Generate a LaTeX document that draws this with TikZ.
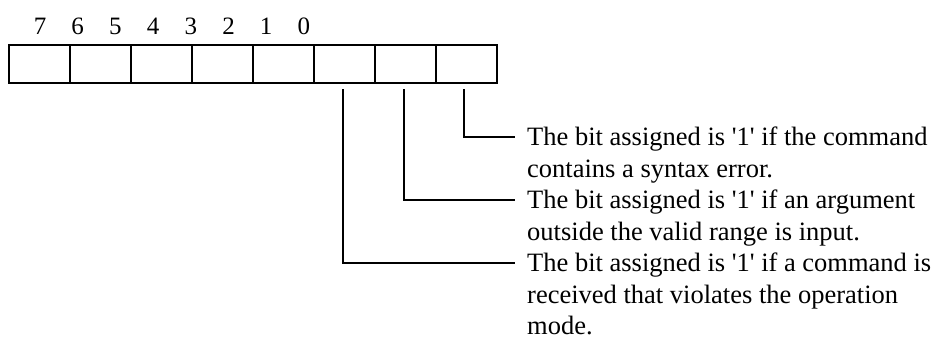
\documentclass[tikz,border=0pt]{standalone}
\usepackage{fontspec}
\setmainfont{Liberation Serif}
\begin{document}
\begin{tikzpicture}[x=1pt,y=-1pt,
  cell/.style={draw,line width=1.5pt,minimum width=61pt,minimum height=38pt,inner sep=0pt,outer sep=0pt},
  digit/.style={font=\fontsize{25}{25}\selectfont,inner sep=0pt,anchor=base},
  desc/.style={font=\fontsize{26.5}{31.5}\selectfont,anchor=west,inner xsep=12pt,inner ysep=0pt,text height=17.5pt,text depth=0pt},
  leader/.style={line width=2.3pt}]
\useasboundingbox (0,0) rectangle (941,343);
% cells
\foreach \i/\n in {0/7,1/6,2/5,3/4,4/3,5/2,6/1,7/0}{
  \node[cell] (b\n) at (39.5+61*\i,64) {};
}
% bit numbers
\foreach \i/\n in {0/7,1/6,2/5,3/4,4/3,5/2,6/1,7/0}{
  \node[digit] (d\n) at (40+37.7*\i,34) {\n};
}
% leader start points
\coordinate (v0) at (464,89);
\coordinate (v1) at (404,89);
\coordinate (v2) at (343,89);
% descriptions
\node[desc] (t0a) at (515,137) {The bit assigned is \textquotesingle 1\textquotesingle\ if the command};
\node[desc] (t0b) at (515,168.5) {contains a syntax error.};
\node[desc] (t1a) at (515,200) {The bit assigned is \textquotesingle 1\textquotesingle\ if an argument};
\node[desc] (t1b) at (515,231.5) {outside the valid range is input.};
\node[desc] (t2a) at (515,263) {The bit assigned is \textquotesingle 1\textquotesingle\ if a command is};
\node[desc] (t2b) at (515,294.5) {received that violates the operation};
\node[desc] (t2c) at (515,326) {mode.};
% leaders
\draw[leader] (v0) |- (t0a.west);
\draw[leader] (v1) |- (t1a.west);
\draw[leader] (v2) |- (t2a.west);
\end{tikzpicture}
\end{document}
